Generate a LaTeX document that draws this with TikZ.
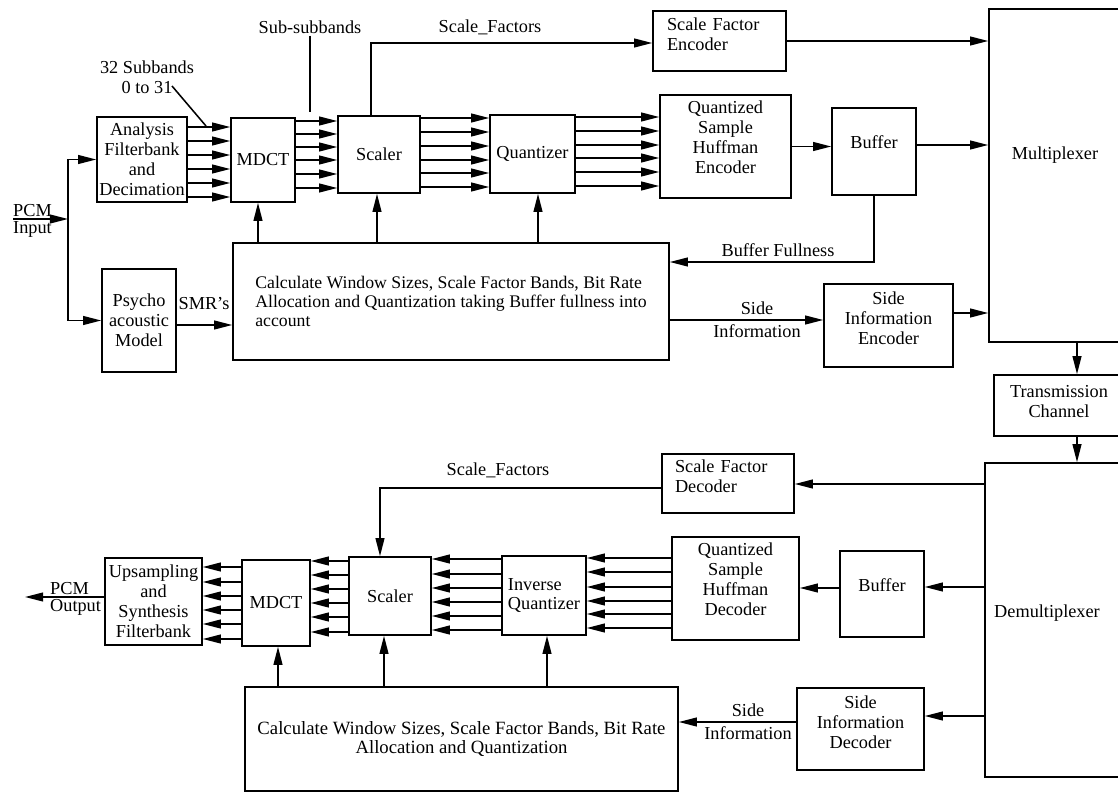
\documentclass[tikz,border=0pt]{standalone}
\usepackage{fontspec}
\setmainfont{Liberation Serif}
\usetikzlibrary{arrows.meta}

\begin{document}
\begin{tikzpicture}[x=0.025cm, y=-0.025cm, line width=1.1pt,
  >={Triangle[length=4.5mm,width=2.2mm]},
  blk/.style={draw, rectangle, inner sep=1pt, align=center, font=\fontsize{13}{14.2}\selectfont},
  sz/.style 2 args={minimum width=#1*0.025cm, minimum height=#2*0.025cm},
  lefttext/.style={align=left, text width=#1*0.025cm},
  lift/.style={text depth=#1*0.05cm},
  lbl/.style={inner sep=1pt, align=center, font=\fontsize{13}{14.2}\selectfont},
  calcfont/.style={font=\fontsize{#1}{13.6}\selectfont}]
  \useasboundingbox (0,0) rectangle (1118,794);
  \clip (0,0) rectangle (1118,794);
  % Encoder blocks
  \node[blk, sz={90}{85}] (ana) at (142,159.5) {Analysis\\Filterbank\\and\\Decimation};
  \node[blk, sz={64}{84}] (mdctE) at (263,160) {MDCT};
  \node[blk, sz={82}{77}] (sclE) at (379,154.5) {Scaler};
  \node[blk, sz={85}{78}] (qnt) at (532.5,154) {Quantizer};
  \node[blk, sz={133}{60}, lefttext=105, lift=17] (sfe) at (719.5,41) {Scale Factor\\Encoder};
  \node[blk, sz={131}{103}, lift=9] (qshe) at (725.5,146.5) {Quantized\\Sample\\Huffman\\Encoder};
  \node[blk, sz={84}{87}, lift=9] (bufE) at (874,151.5) {Buffer};
  \node[blk, sz={133}{333}] (mux) at (1055.5,175.5) {};
  \node[lbl] (muxT) at (1055,155) {Multiplexer};
  \node[blk, sz={74}{103}] (pps) at (139,320.5) {Psycho\\acoustic\\Model};
  \node[blk, calcfont=12.6, sz={436}{117}, align=left] (calcE) at (451,301.5)
    {Calculate Window Sizes, Scale Factor Bands, Bit Rate\\Allocation and Quantization taking Buffer fullness into\\account};
  \node[blk, sz={129}{83}, lift=7] (sie) at (888.5,325.5) {Side\\Information\\Encoder};
  % Channel
  \node[blk, sz={130}{61}, lift=4] (trc) at (1059,405.5) {Transmission\\Channel};
  % Decoder blocks
  \node[blk, sz={140}{314}] (dmx) at (1055,620) {};
  \node[lbl] (dmxT) at (1047,613) {Demultiplexer};
  \node[blk, sz={132}{59}, lefttext=106, lift=17] (sfd) at (728,483.5) {Scale Factor\\Decoder};
  \node[blk, sz={127}{103}, lift=9] (qshd) at (735.5,588.5) {Quantized\\Sample\\Huffman\\Decoder};
  \node[blk, sz={84}{86}, lift=9] (bufD) at (882,594) {Buffer};
  \node[blk, sz={82}{78}] (sclD) at (390,596) {Scaler};
  \node[blk, sz={84}{79}, align=left] (iqt) at (544,595.5) {Inverse\\Quantizer};
  \node[blk, sz={68}{86}] (mdctD) at (276,603) {MDCT};
  \node[blk, sz={97}{87}] (ups) at (153.5,601.5) {Upsampling\\and\\Synthesis\\Filterbank};
  \node[blk, calcfont=13.3, sz={433}{104}] (calcD) at (461.5,739)
    {Calculate Window Sizes, Scale Factor Bands, Bit Rate\\Allocation and Quantization};
  \node[blk, sz={127}{82}, lift=7] (sid) at (860.5,729) {Side\\Information\\Decoder};

  % PCM input split to filterbank and psychoacoustic model
  \coordinate (pcmIn) at (13,219);
  \coordinate (split) at (68,219);
  \draw[->] (pcmIn) -- (split);
  \node[lbl, anchor=south west] (pcmT) at (11,219) {PCM};
  \node[lbl, anchor=north west] (inT) at (11,219) {Input};
  \draw[->] (split) |- (ana.west);
  \draw[->] (split) |- (pps.west);
  % Subband labels
  \node[lbl] (sub32) at (147,77) {32 Subbands\\0 to 31};
  \coordinate (sub32tip) at (172,86);
  \coordinate (sub32end) at (206,126);
  \draw (sub32tip) -- (sub32end);
  \node[lbl] (subsub) at (310,27) {Sub-subbands};
  \coordinate (subsubend) at (310,112);
  \draw (subsub) -- (subsubend);
  % Parallel band arrows, encoder
  \foreach \y in {127,141,155,169,183,197}
    \draw[->] (ana.east |- 0,\y) -- (mdctE.west |- 0,\y);
  \foreach \y in {121,134,147,160,174,188}
    \draw[->] (mdctE.east |- 0,\y) -- (sclE.west |- 0,\y);
  \foreach \y in {118,132,146,160,173,187}
    \draw[->] (sclE.east |- 0,\y) -- (qnt.west |- 0,\y);
  \foreach \y in {117,131,145,158,172,186}
    \draw[->] (qnt.east |- 0,\y) -- (qshe.west |- 0,\y);
  % Control from calculation block
  \foreach \x/\dst in {258/mdctE, 377/sclE, 538/qnt}
    \draw[->] (calcE.north -| \x,0) -- (\dst.south -| \x,0);
  \draw[->] (pps.east |- 0,325) -- (calcE.west |- 0,325);
  \node[lbl] (smrT) at (204,304) {SMR's};
  % Scale factors to encoder
  \draw[->] (sclE.north -| 371,0) |- (sfe.west |- 0,43);
  \node[lbl] (sfT) at (490,27) {Scale\_Factors};
  % Into the multiplexer
  \draw[->] (sfe.east) -- (sfe.east -| mux.west);
  \draw[->] (qshe.east) -- (qshe.east -| bufE.west);
  \draw[->] (bufE.east |- 0,145) -- (mux.west |- 0,145);
  \draw[->] (bufE.south) |- (calcE.east |- 0,262);
  \node[lbl] (bfT) at (778,250) {Buffer Fullness};
  \draw[->] (calcE.east |- 0,320) -- (sie.west |- 0,320);
  \node[lbl] (siT) at (757,308) {Side};
  \node[lbl] (siT2) at (757,331) {Information};
  \draw[->] (sie.east |- 0,313) -- (mux.west |- 0,313);
  % Through the channel
  \draw[->] (mux.south -| 1077,0) -- (trc.north -| 1077,0);
  \draw[->] (trc.south -| 1077,0) -- (dmx.north -| 1077,0);
  % Out of the demultiplexer
  \draw[->] (dmx.west |- 0,484) -- (sfd.east |- 0,484);
  \draw[->] (dmx.west |- 0,587) -- (bufD.east |- 0,587);
  \draw[->] (bufD.west |- 0,588) -- (qshd.east |- 0,588);
  \draw[->] (dmx.west |- 0,716) -- (sid.east |- 0,716);
  \draw[->] (sid.west |- 0,722) -- (calcD.east |- 0,722);
  \node[lbl] (sidT) at (748,710) {Side};
  \node[lbl] (sidT2) at (748,733) {Information};
  \draw[->] (sfd.west |- 0,488) -| (sclD.north -| 380,0);
  \node[lbl] (sfdT) at (498,470) {Scale\_Factors};
  % Parallel band arrows, decoder
  \foreach \y in {558,572,587,601,614,628}
    \draw[->] (qshd.west |- 0,\y) -- (iqt.east |- 0,\y);
  \foreach \y in {559,574,588,602,616,630}
    \draw[->] (iqt.west |- 0,\y) -- (sclD.east |- 0,\y);
  \foreach \y in {561,575,589,603,617,632}
    \draw[->] (sclD.west |- 0,\y) -- (mdctD.east |- 0,\y);
  \foreach \y in {567,582,596,610,624,639}
    \draw[->] (mdctD.west |- 0,\y) -- (ups.east |- 0,\y);
  \foreach \x/\dst in {278/mdctD, 384/sclD, 547/iqt}
    \draw[->] (calcD.north -| \x,0) -- (\dst.south -| \x,0);
  % PCM output
  \coordinate (pcmOut) at (25,597);
  \draw[->] (ups.west |- 0,597) -- (pcmOut);
  \node[lbl, anchor=south west] (pcmT2) at (48,597) {PCM};
  \node[lbl, anchor=north west] (outT) at (48,597) {Output};
\end{tikzpicture}
\end{document}
